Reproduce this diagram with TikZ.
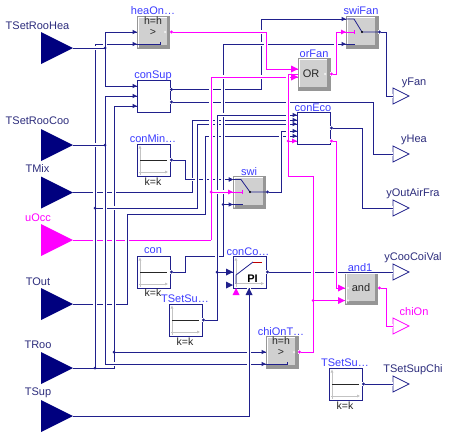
\documentclass[tikz,border=0pt]{standalone}
\usepackage{fontspec}
\setmainfont{Liberation Sans}
\usetikzlibrary{arrows.meta,shapes.geometric}
\definecolor{wireb}{RGB}{32,32,140}
\definecolor{navyport}{RGB}{0,0,127}
\definecolor{pinkw}{RGB}{255,0,255}
\definecolor{blockname}{RGB}{60,60,255}
\definecolor{portname}{RGB}{45,45,125}
\definecolor{bodygray}{RGB}{208,208,208}
\definecolor{shadegray}{RGB}{150,150,150}
\definecolor{axisgray}{RGB}{195,195,195}
\tikzset{
  inport/.style={isosceles triangle,isosceles triangle stretches,shape border rotate=0,inner sep=0pt,outer sep=0pt,minimum width=32pt,minimum height=32pt,anchor=lower side,fill=navyport},
  outport/.style={isosceles triangle,isosceles triangle stretches,shape border rotate=0,inner sep=0pt,outer sep=0pt,minimum width=16pt,minimum height=16pt,anchor=lower side,draw=wireb,fill=white,line width=.8pt},
  pinkport/.style={draw=pinkw,fill=white},
  plainblock/.style={draw=wireb,fill=white,line width=.9pt,minimum width=33pt,minimum height=32pt,inner sep=0pt,outer sep=0pt},
  constblock/.style={plainblock,path picture={
    \draw[axisgray,line width=.8pt,-{Triangle[length=3pt,width=2.6pt]}] ([shift={(3pt,1.5pt)}]path picture bounding box.south west) -- ([shift={(3pt,-1.5pt)}]path picture bounding box.north west);
    \draw[axisgray,line width=.8pt,-{Triangle[length=3pt,width=2.6pt]}] ([shift={(1.5pt,4pt)}]path picture bounding box.south west) -- ([shift={(-2pt,4pt)}]path picture bounding box.south east);
    \draw[black!85,line width=.8pt] ([xshift=3pt]path picture bounding box.west) -- ([xshift=-3pt]path picture bounding box.east);
  }},
  pidblock/.style={plainblock,path picture={
    \draw[axisgray,line width=.8pt,-{Triangle[length=3pt,width=2.6pt]}] ([shift={(3pt,1.5pt)}]path picture bounding box.south west) -- ([shift={(3pt,-1.5pt)}]path picture bounding box.north west);
    \draw[axisgray,line width=.8pt,-{Triangle[length=3pt,width=2.6pt]}] ([shift={(1.5pt,4.5pt)}]path picture bounding box.south west) -- ([shift={(-2pt,4.5pt)}]path picture bounding box.south east);
    \draw[wireb,line width=.8pt] ([shift={(3pt,4.5pt)}]path picture bounding box.south west) -- ([shift={(3pt,13pt)}]path picture bounding box.south west) -- ([shift={(20pt,26pt)}]path picture bounding box.south west);
    \draw[red!75!black,line width=.8pt] ([shift={(20pt,26pt)}]path picture bounding box.south west) -- ([shift={(29pt,26pt)}]path picture bounding box.south west);
  }},
  grayblock/.style={draw=shadegray,fill=bodygray,line width=1pt,minimum width=32pt,minimum height=32pt,inner sep=0pt,outer sep=0pt,path picture={
    \draw[white,line width=1.5pt] ([shift={(1.2pt,1.5pt)}]path picture bounding box.south west) |- ([shift={(-1.5pt,-1.2pt)}]path picture bounding box.north east);
    \draw[shadegray,line width=3pt] ([shift={(1pt,1.5pt)}]path picture bounding box.south west) -| ([shift={(-1.5pt,-1pt)}]path picture bounding box.north east);
  }},
  casing/.style={preaction={draw=white,line width=3.2pt,-}},
  casingj/.style={preaction={draw=white,line width=3.2pt,-,shorten <=2.5pt}},
  wb/.style={draw=wireb,line width=.9pt,casing},
  wp/.style={draw=pinkw,line width=.9pt,casing},
  wbj/.style={draw=wireb,line width=.9pt,casingj},
  wpj/.style={draw=pinkw,line width=.9pt,casingj},
  bare/.style={line width=.9pt},
  tipo/.style={{Circle[open,fill=white,length=3pt,width=3pt]}-},
  tipoin/.style={{Circle[open,fill=white,length=3pt,width=3pt]}-{Triangle[length=4pt,width=4pt]}},
  lblb/.style={text=blockname,font=\fontsize{11}{11}\selectfont,inner sep=0pt},
  lbld/.style={text=portname,font=\fontsize{11}{11}\selectfont,inner sep=0pt},
  lblp/.style={text=pinkw,font=\fontsize{11}{11}\selectfont,inner sep=0pt},
  lblk/.style={text=black!85,font=\fontsize{10.5}{10.5}\selectfont,inner sep=0pt},
  jdot/.style={circle,fill=wireb,inner sep=0pt,minimum size=3pt},
  jdotp/.style={circle,fill=pinkw,inner sep=0pt,minimum size=3pt},
  lightdot/.style={circle,fill=white!90!gray,inner sep=0pt,minimum size=2.5pt},
}
\begin{document}
\begin{tikzpicture}[x=1pt,y=-1pt]
\useasboundingbox (0,0) rectangle (449,439);
\fill[white] (0,0) rectangle (449,439);
% input ports
\node[inport] (TSetRooHea) at (41,48) {};
\node[inport] (TSetRooCoo) at (41,145) {};
\node[inport] (TMix) at (41,192.5) {};
\node[inport,fill=pinkw] (uOcc) at (41,240) {};
\node[inport] (TOut) at (41,304) {};
\node[inport] (TRoo) at (41,368) {};
\node[inport] (TSup) at (41,416) {};
% output ports
\node[outport] (yFan) at (393,96) {};
\node[outport] (yHea) at (393,154) {};
\node[outport] (yOutAirFra) at (393,208) {};
\node[outport] (yCooCoiVal) at (393,272) {};
\node[outport,pinkport] (chiOn) at (393,326) {};
\node[outport] (TSetSupChi) at (393,384) {};
% blocks
\node[grayblock] (heaOn) at (153.5,32) {};
\node[plainblock] (conSup) at (153.5,96) {};
\node[constblock] (conMin) at (153.5,160) {};
\node[constblock] (con) at (153.5,272) {};
\node[constblock] (TSetSuA) at (185.5,320) {};
\node[constblock] (TSetSuB) at (345.5,384) {};
\node[grayblock] (swi) at (249.5,192) {};
\node[pidblock] (conCo) at (249.5,272) {};
\node[grayblock] (chiOnT) at (282,352) {};
\node[grayblock] (and1) at (361.5,288) {};
\node[grayblock] (swiFan) at (362,32) {};
\node[grayblock] (orFan) at (314,74) {};
\node[plainblock] (conEco) at (313.5,128) {};
% ports of the blocks
\coordinate (heaOnA) at (137,32); \coordinate (heaOnB) at (137,44); \coordinate (heaOnY) at (170,32);
\coordinate (conSupA) at (137,86); \coordinate (conSupB) at (137,96); \coordinate (conSupC) at (137,106);
\coordinate (conSupY) at (170,89.5); \coordinate (conSupZ) at (170,102);
\coordinate (conMinY) at (170,160); \coordinate (conY) at (170,272);
\coordinate (TSetSuAY) at (202,320); \coordinate (TSetSuBY) at (362,384);
\coordinate (swiA) at (233,179.5); \coordinate (swiB) at (233,192); \coordinate (swiC) at (233,204.5); \coordinate (swiY) at (266,192);
\coordinate (conCoA) at (233,272); \coordinate (conCoM) at (249,288); \coordinate (conCoY) at (266,272);
\coordinate (chiA) at (266,352); \coordinate (chiB) at (266,364); \coordinate (chiY) at (298,352);
\coordinate (andA) at (345,288); \coordinate (andB) at (345,300.5); \coordinate (andY) at (378,288);
\coordinate (swiFanA) at (346,19); \coordinate (swiFanB) at (346,32); \coordinate (swiFanC) at (346,44); \coordinate (swiFanY) at (378,32);
\coordinate (orA) at (298,69); \coordinate (orB) at (298,74); \coordinate (orC) at (298,77); \coordinate (orY) at (330,74);
\coordinate (ecoA) at (297,115); \coordinate (ecoB) at (297,120); \coordinate (ecoC) at (297,124); \coordinate (ecoD) at (297,131); \coordinate (ecoE) at (297,136); \coordinate (ecoF) at (297,141);
\coordinate (ecoY) at (330,128); \coordinate (ecoZ) at (330,141);
% junctions
\coordinate (jHea) at (105,48); \coordinate (jCoo) at (105,145);
\coordinate (jRooA) at (95,368); \coordinate (jRooB) at (95,208); \coordinate (jRooC) at (114,368); \coordinate (jRooD) at (114,352);
\coordinate (jOcc) at (211,240); \coordinate (jOccB) at (211,192);
\coordinate (jSet) at (217,272); \coordinate (jCon) at (223,204.5);
\coordinate (jChiA) at (288,141); \coordinate (jChiB) at (313,300.5);
% wires
\draw[wb,tipo] (conSupY) -- (261,89.5) -- (261,19) -- (swiFanA);
\draw[wb,tipo] (conSupZ) -- (373,102) -- (373,154) -- (yHea.lower side);
\draw[wb] (TMix.apex) -- (192,192.5) -- (192,120) -- (ecoB);
\draw[wb,tipoin] (conMinY) -- (185,160) -- (185,179.5) -- (swiA);
\draw[wp] (uOcc.apex) -- (jOcc);
\draw[wb] (TOut.apex) -- (127,304) -- (127,214) -- (205,214) -- (205,136) -- (ecoE);
\draw[wb] (TRoo.apex) -- (jRooC) -- (114,106) -- (conSupC);
\draw[wbj] (jRooD) -- (chiA);
\draw[wbj] (jRooA) -- (95,44) -- (heaOnB);
\draw[wbj] (jRooB) -- (197,208) -- (197,124) -- (ecoC);
\draw[wb] (TSetRooCoo.apex) -- (jCoo);
\draw[wbj] (jCoo) -- (105,96) -- (conSupB);
\draw[wbj] (jCoo) -- (105,364) -- (chiB);
\draw[wb] (TSetRooHea.apex) -- (jHea);
\draw[wbj] (jHea) -- (105,32) -- (heaOnA);
\draw[wbj] (jHea) -- (105,86) -- (conSupA);
\draw[wb,tipo] (conY) -- (185,272) -- (185,256.5) -- (223,256.5) -- (223,44) -- (swiFanC);
\draw[wbj] (jCon) -- (swiC);
\draw[wb,tipo] (TSetSuAY) -- (217,320) -- (217,115) -- (ecoA);
\draw[wbj] (jSet) -- (conCoA);
\draw[wb,tipo] (swiY) -- (281,192) -- (281,131) -- (ecoD);
\draw[wb,tipo] (ecoY) -- (362,128) -- (362,208) -- (yOutAirFra.lower side);
\draw[wb,tipo] (conCoY) -- (yCooCoiVal.lower side);
\draw[wb] (TSup.apex) -- (249,416) -- (conCoM);
\draw[wb,tipo] (swiFanY) -- (386,32) -- (386,96) -- (yFan.lower side);
\draw[wb,tipo] (TSetSuBY) -- (TSetSupChi.lower side);
% Boolean wires
\draw[wpj] (jOcc) -- (211,77) -- (orC);
\draw[wpj] (jOccB) -- (swiB);
\draw[wp,tipo] (heaOnY) -- (266,32) -- (266,69) -- (orA);
\draw[wp,tipo] (chiY) -- (313,352) -- (313,176) -- (288,176) -- (288,74) -- (orB);
\draw[wpj] (jChiA) -- (ecoF);
\draw[wpj] (jChiB) -- (andB);
\draw[wp,tipo] (ecoZ) -- (336,141) -- (336,288) -- (andA);
\draw[wp,tipo] (orY) -- (336,74) -- (336,32) -- (swiFanB);
\draw[wp,tipo] (andY) -- (386,288) -- (386,326) -- (chiOn.lower side);
% arrowheads at the inputs
\foreach \p in {heaOnA,heaOnB,conSupA,conSupB,conSupC,swiA,swiC,swiFanA,swiFanC,chiA,chiB,ecoA,ecoB,ecoC,ecoD,ecoE}
  \fill[wireb] (\p) -- ++(-4.5,-2.2) -- ++(0,4.4) -- cycle;
\foreach \p in {swiB,swiFanB,ecoF}
  \fill[pinkw] (\p) -- ++(-5,-2.4) -- ++(0,4.8) -- cycle;
\foreach \p in {orA,orC,andA,andB}
  \fill[pinkw] (\p) -- ++(-7,-3.5) -- ++(0,7) -- cycle;
\fill[wireb] (conCoA) -- ++(-7,-3.5) -- ++(0,7) -- cycle;
\fill[wireb] (233,285) -- ++(-7,-3.5) -- ++(0,7) -- cycle;
\fill[pinkw] (236,288) -- ++(-3.5,7) -- ++(7,0) -- cycle;
\fill[wireb] (conCoM) -- ++(-3.5,7) -- ++(7,0) -- cycle;
% junction dots
\foreach \p in {jHea,jCoo,jRooA,jRooB,jRooD,jSet,jCon}
  \node[jdot] at (\p) {};
\foreach \p in {jOccB,jChiA,jChiB}
  \node[jdotp] at (\p) {};
% block interiors
\draw[wireb,bare,line width=.8pt] (heaOnB) -- (160,44) -- (160,41.5);
\draw[wireb,bare,line width=.8pt] (chiB) -- (287,364) -- (287,361.5);
\draw[wireb,line width=.8pt] (swiFanA) -- (354,19) -- (362,32) -- (swiFanY);
\draw[wireb,line width=.8pt] (swiFanC) -- (355,44);
\draw[pinkw,line width=.8pt] (swiFanB) -- (354,32) (354,30) -- (354,34);
\fill[black] (362,32) circle (1.1);
\draw[wireb,line width=.8pt] (swiA) -- (241,179.5) -- (250,192) -- (swiY);
\draw[wireb,line width=.8pt] (swiC) -- (243,204.5);
\draw[pinkw,line width=.8pt] (swiB) -- (242,192) (242,190) -- (242,194);
\fill[black] (250,192) circle (1.1);
\node[lightdot] (dotA) at (165,32) {};
\node[lightdot] (dotB) at (325,74) {};
\node[lightdot] (dotC) at (294,352) {};
\node[lightdot] (dotD) at (348,288) {};
\node[lightdot] (dotE) at (348,300.5) {};
% texts
\node[lbld] (tA) at (37.5,26) {TSetRooHea};
\node[lbld] (tB) at (37.5,121) {TSetRooCoo};
\node[lbld] (tC) at (37.5,169) {TMix};
\node[lblp] (tD) at (38,218) {uOcc};
\node[lbld] (tE) at (38,281.5) {TOut};
\node[lbld] (tF) at (38,345) {TRoo};
\node[lbld] (tG) at (38,393) {TSup};
\node[lblb] (bA) at (153,11) {heaOn…};
\node[lblk] (hA) at (153,21) {h=h};
\node[lblk] (gA) at (153,32) {>};
\node[lblb] (bB) at (153,75.5) {conSup};
\node[lblb] (bC) at (153,139) {conMin…};
\node[lblk] (kA) at (153,181.5) {k=k};
\node[lblb] (bD) at (153,251) {con};
\node[lblk] (kB) at (153,293) {k=k};
\node[lblb] (bE) at (185,299) {TSetSu…};
\node[lblk] (kC) at (185,342) {k=k};
\node[lblb] (bF) at (249,171.5) {swi};
\node[lblb] (bG) at (248,251.5) {conCo…};
\node[text=black,font=\fontsize{11}{11}\selectfont\bfseries,inner sep=0pt] (pi) at (252.5,279) {PI};
\node[lblb] (bH) at (281,331.5) {chiOnT…};
\node[lblk] (hB) at (281,341) {h=h};
\node[lblk] (gB) at (281,352) {>};
\node[lblb] (bI) at (360,267.5) {and1};
\node[text=black!85,font=\fontsize{11}{11}\selectfont,inner sep=0pt] (andT) at (361,288) {and};
\node[lblb] (bJ) at (361,11) {swiFan};
\node[lblb] (bK) at (314,53.5) {orFan};
\node[text=black!85,font=\fontsize{11}{11}\selectfont,inner sep=0pt] (orT) at (311,74) {OR};
\node[lblb] (bL) at (313,107.5) {conEco};
\node[lblb] (bM) at (345,363) {TSetSu…};
\node[lblk] (kD) at (345,405.5) {k=k};
\node[lbld] (oA) at (414,83) {yFan};
\node[lbld] (oB) at (414,140) {yHea};
\node[lbld] (oC) at (413,194) {yOutAirFra};
\node[lbld] (oD) at (413,258) {yCooCoiVal};
\node[lblp] (oE) at (414,312) {chiOn};
\node[lbld] (oF) at (413,370) {TSetSupChi};
\end{tikzpicture}
\end{document}
